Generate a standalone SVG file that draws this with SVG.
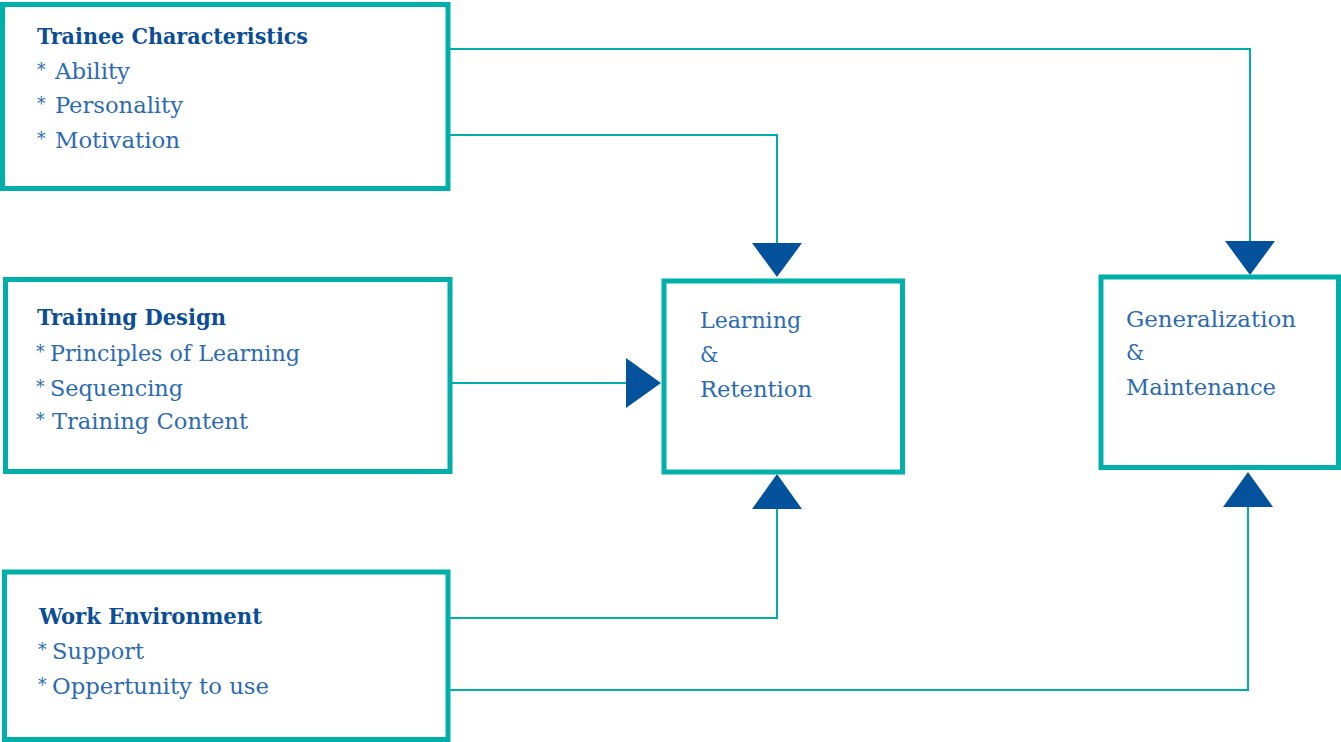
<svg xmlns="http://www.w3.org/2000/svg" width="1341" height="742" viewBox="0 0 1341 742">
<style>
.box{fill:#fff;stroke:#00AFA9;stroke-width:5}
.con{fill:none;stroke:#00AFA9;stroke-width:2}
.arr{fill:#03529B}
.h{font-family:"DejaVu Serif","Liberation Serif",serif;font-stretch:condensed;font-weight:bold;font-size:23px;fill:#0B4E95}
.t{font-family:"DejaVu Serif","Liberation Serif",serif;font-stretch:condensed;font-size:23px;fill:#2C6BB0}
.s{font-size:19px}
</style>
<rect width="1341" height="742" fill="#fff"/>
<g id="connectors">
<polyline class="con" points="450,49 1250,49 1250,242"/>
<polyline class="con" points="450,135 777,135 777,244"/>
<polyline class="con" points="452,383 627,383"/>
<polyline class="con" points="450,618 777,618 777,507"/>
<polyline class="con" points="450,690 1248,690 1248,505"/>
<polygon class="arr" points="752,243 802,243 777,277"/>
<polygon class="arr" points="626,358 626,408 661,383"/>
<polygon class="arr" points="752,509 802,509 777,474"/>
<polygon class="arr" points="1225,241 1275,241 1250,275"/>
<polygon class="arr" points="1223,507 1273,507 1248,472"/>
</g>
<g id="trainee">
<rect class="box" x="2.5" y="4.5" width="445.5" height="184"/>
<text class="h" x="37" y="44" textLength="271" lengthAdjust="spacingAndGlyphs">Trainee Characteristics</text>
<text class="t"><tspan class="s" x="37" y="76">*</tspan><tspan x="55" y="79" textLength="75" lengthAdjust="spacingAndGlyphs">Ability</tspan></text>
<text class="t"><tspan class="s" x="37" y="110">*</tspan><tspan x="55" y="113" textLength="128" lengthAdjust="spacingAndGlyphs">Personality</tspan></text>
<text class="t"><tspan class="s" x="37" y="145">*</tspan><tspan x="55" y="148" textLength="125" lengthAdjust="spacingAndGlyphs">Motivation</tspan></text>
</g>
<g id="design">
<rect class="box" x="5.5" y="279.5" width="444.5" height="192"/>
<text class="h" x="37" y="325" textLength="189" lengthAdjust="spacingAndGlyphs">Training Design</text>
<text class="t"><tspan class="s" x="36" y="358">*</tspan><tspan x="50" y="361" textLength="250" lengthAdjust="spacingAndGlyphs">Principles of Learning</tspan></text>
<text class="t"><tspan class="s" x="36" y="393">*</tspan><tspan x="50" y="396" textLength="133" lengthAdjust="spacingAndGlyphs">Sequencing</tspan></text>
<text class="t"><tspan class="s" x="36" y="426">*</tspan><tspan x="52" y="429" textLength="196" lengthAdjust="spacingAndGlyphs">Training Content</tspan></text>
</g>
<g id="work">
<rect class="box" x="4.5" y="572" width="443.5" height="167.5"/>
<text class="h" x="39" y="624" textLength="223" lengthAdjust="spacingAndGlyphs">Work Environment</text>
<text class="t"><tspan class="s" x="38" y="656">*</tspan><tspan x="52" y="659" textLength="92" lengthAdjust="spacingAndGlyphs">Support</tspan></text>
<text class="t"><tspan class="s" x="38" y="691">*</tspan><tspan x="52" y="694" textLength="217" lengthAdjust="spacingAndGlyphs">Oppertunity to use</tspan></text>
</g>
<g id="learning">
<rect class="box" x="664" y="281" width="238.5" height="191"/>
<text class="t" x="700" y="328" textLength="101" lengthAdjust="spacingAndGlyphs">Learning</text>
<text class="t" x="700" y="362">&amp;</text>
<text class="t" x="700" y="397" textLength="112" lengthAdjust="spacingAndGlyphs">Retention</text>
</g>
<g id="generalization">
<rect class="box" x="1101" y="277" width="237.5" height="190.5"/>
<text class="t" x="1126" y="327" textLength="170" lengthAdjust="spacingAndGlyphs">Generalization</text>
<text class="t" x="1126" y="360">&amp;</text>
<text class="t" x="1126" y="395" textLength="150" lengthAdjust="spacingAndGlyphs">Maintenance</text>
</g>
</svg>
